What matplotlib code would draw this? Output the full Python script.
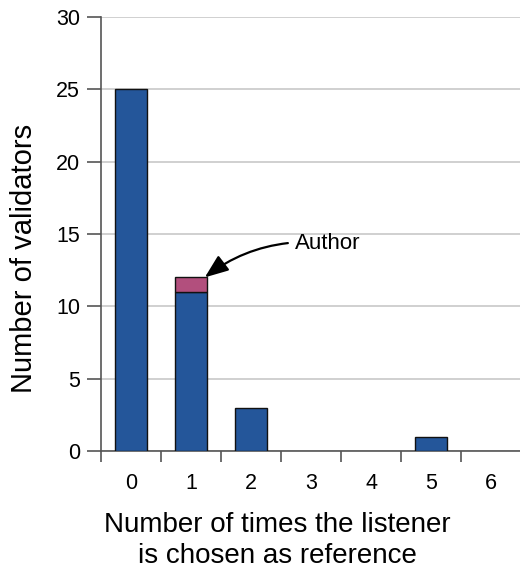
import matplotlib
matplotlib.use("Agg")
import matplotlib.pyplot as plt
import numpy as np

plt.rcParams['font.family'] = ['Liberation Sans', 'DejaVu Sans']

categories = [0, 1, 2, 3, 4, 5, 6]
validators = [25, 11, 3, 0, 0, 1, 0]
author = [0, 1, 0, 0, 0, 0, 0]
y_ticks = [0, 5, 10, 15, 20, 25, 30]

blue = "#24569a"
pink = "#b24f7d"
axis_col = "#555555"
grid_col = "#c8c8c8"

fig = plt.figure(figsize=(5.2, 5.74), dpi=100)
ax = fig.add_axes([101/520, 1 - 451/574, 420/520, 434/574])

x = np.array(categories)
v = np.array(validators)
a = np.array(author)

# only draw non-empty bars
m = v > 0
ax.bar(x[m], v[m], width=0.52, color=blue, edgecolor="#111111", linewidth=1.0, zorder=3)
ma = a > 0
ax.bar(x[ma], a[ma], bottom=v[ma], width=0.52, color=pink, edgecolor="#111111",
       linewidth=1.0, zorder=3)

ax.set_xlim(-0.5, 6.5)
ax.set_ylim(0, 30)
ax.set_yticks(y_ticks)
ax.yaxis.grid(True, color=grid_col, linewidth=1.2, zorder=0)
ax.set_axisbelow(True)

ax.set_xticks(x)
ax.set_xticklabels([str(c) for c in categories])
ax.set_xticks(np.arange(-0.5, 6.6, 1.0), minor=True)
ax.tick_params(axis='x', which='major', length=0, pad=16, labelsize=15.5)
ax.tick_params(axis='x', which='minor', length=8, width=1.2, color=axis_col, direction='out')
ax.tick_params(axis='y', length=10, width=1.2, color=axis_col, direction='out', pad=5,
               labelsize=15.5)

for s in ['top', 'right']:
    ax.spines[s].set_visible(False)
for s in ['left', 'bottom']:
    ax.spines[s].set_color(axis_col)
    ax.spines[s].set_linewidth(1.2)

ax.set_ylabel("Number of validators", fontsize=21, labelpad=12)
ax.yaxis.set_label_coords(-0.15, (451 - 258) / 434)
ax.set_xlabel("Number of times the listener\nis chosen as reference", fontsize=20,
              labelpad=14, linespacing=1.25)
ax.xaxis.set_label_coords((277 - 101) / 420, -(512 - 451) / 434)
ax.xaxis.label.set_va('top')

top1 = validators[1] + author[1]
ax.annotate("Author", xy=(1.23, top1), xytext=(2.73, 14.37),
            fontsize=16, ha='left', va='center',
            arrowprops=dict(arrowstyle="-|>,head_length=0.9,head_width=0.35", color="black",
                            linewidth=1.6, connectionstyle="arc3,rad=0.2",
                            shrinkA=3, shrinkB=0))

fig.savefig("out.png", dpi=100)
